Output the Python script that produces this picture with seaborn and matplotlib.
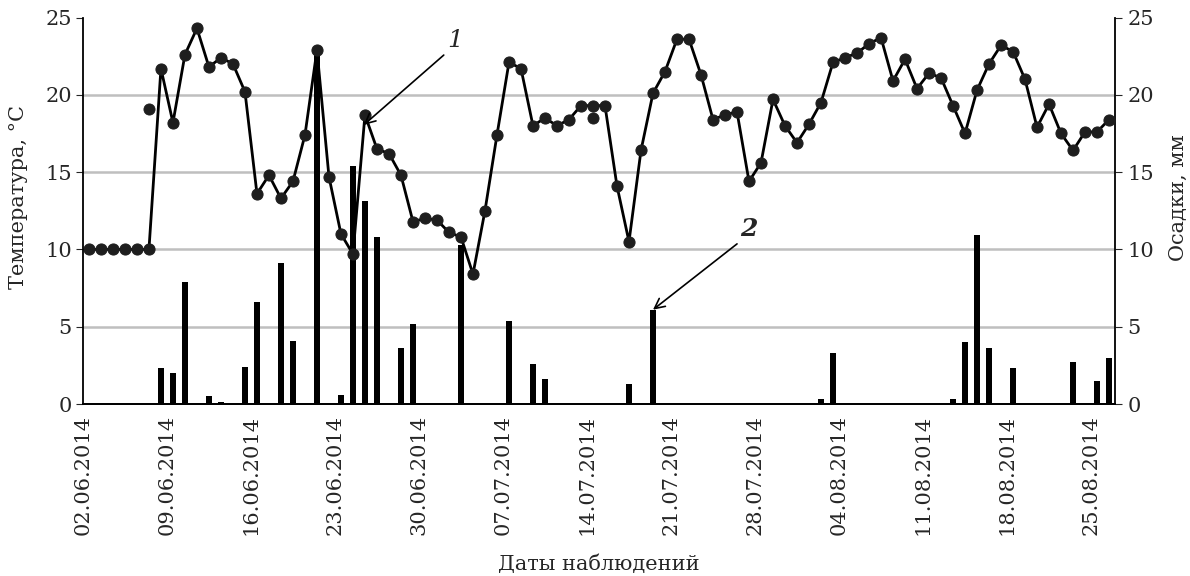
import numpy as np
import pandas as pd
import matplotlib
matplotlib.use("Agg")
import matplotlib.pyplot as plt
import seaborn as sns

# Observation period: daily, 02.06.2014 - 26.08.2014
dates = pd.date_range("2014-06-02", "2014-08-26", freq="D")
day_labels = list(dates.strftime("%d.%m.%Y"))

# Mean daily air temperature, °C
temperature = [
    10.0, 10.0, 10.0, 10.0, 10.0, 10.0, 21.7, 18.2, 22.6, 24.3,
    21.8, 22.4, 22.0, 20.2, 13.6, 14.8, 13.3, 14.4, 17.4, 22.9,
    14.7, 11.0, 9.7, 18.7, 16.5, 16.2, 14.8, 11.8, 12.0, 11.9,
    11.1, 10.8, 8.4, 12.5, 17.4, 22.1, 21.7, 18.0, 18.5, 18.0,
    18.4, 19.3, 19.3, 19.3, 14.1, 10.5, 16.4, 20.1, 21.5, 23.6,
    23.6, 21.3, 18.4, 18.7, 18.9, 14.4, 15.6, 19.7, 18.0, 16.9,
    18.1, 19.5, 22.1, 22.4, 22.7, 23.3, 23.7, 20.9, 22.3, 20.4,
    21.4, 21.1, 19.3, 17.5, 20.3, 22.0, 23.2, 22.8, 21.0, 17.9,
    19.4, 17.5, 16.4, 17.6, 17.6, 18.4,
]

# Separate single temperature readings
extra_dates = ["07.06.2014", "14.07.2014"]
extra_temp = [19.1, 18.5]

# Days with precipitation and amounts, mm
rain_dates = [
    "08.06.2014", "09.06.2014", "10.06.2014", "12.06.2014", "13.06.2014",
    "15.06.2014", "16.06.2014", "18.06.2014", "19.06.2014", "21.06.2014",
    "23.06.2014", "24.06.2014", "25.06.2014", "26.06.2014", "28.06.2014",
    "29.06.2014", "03.07.2014", "07.07.2014", "09.07.2014", "10.07.2014",
    "17.07.2014", "19.07.2014", "02.08.2014", "03.08.2014", "13.08.2014",
    "14.08.2014", "15.08.2014", "16.08.2014", "18.08.2014", "23.08.2014",
    "25.08.2014", "26.08.2014",
]
rain_mm = [
    2.3, 2.0, 7.9, 0.5, 0.1, 2.4, 6.6, 9.1, 4.1, 22.6,
    0.6, 15.4, 13.1, 10.8, 3.6, 5.2, 10.3, 5.4, 2.6, 1.6,
    1.3, 6.1, 0.3, 3.3, 0.3, 4.0, 10.9, 3.6, 2.3, 2.7,
    1.5, 3.0,
]

df = pd.DataFrame({"date": day_labels, "temp": temperature})
df["day"] = np.arange(len(df))
rain = dict(zip(rain_dates, rain_mm))
df["rain"] = [rain.get(d, 0.0) for d in day_labels]
pos = {d: i for i, d in enumerate(day_labels)}
extra_df = pd.DataFrame({"day": [pos[d] for d in extra_dates], "temp": extra_temp})

sns.set_style("white")
plt.rcParams["font.family"] = ["DejaVu Serif"]
plt.rcParams["font.size"] = 15

fig, ax = plt.subplots(figsize=(11.9, 5.76), dpi=100)
fig.subplots_adjust(left=0.0697, right=0.937, bottom=0.2986, top=0.9696)
ax2 = ax.twinx()

# Precipitation bars (right axis), drawn beneath the temperature curve
sns.barplot(data=df, x="day", y="rain", ax=ax2, color="black",
            width=0.55, native_scale=True, saturation=1, edgecolor="none")
ax2.set_axisbelow(True)

# Temperature curve (left axis)
sns.lineplot(data=df, x="day", y="temp", ax=ax, color="black", lw=2,
             marker="o", markersize=8, markerfacecolor="#1e1e1e",
             markeredgecolor="#1e1e1e")
sns.scatterplot(data=extra_df, x="day", y="temp", ax=ax, color="#1e1e1e",
                s=64, edgecolor="#1e1e1e", zorder=3)

ax.set_zorder(ax2.get_zorder() + 1)
ax.patch.set_visible(False)

n = len(df)
for a in (ax, ax2):
    a.set_xlim(-0.5, n - 0.5)
    a.set_ylim(0, 25)
    a.set_yticks(np.arange(0, 26, 5))
    a.spines["top"].set_visible(False)
    for s in ("left", "right", "bottom"):
        a.spines[s].set_color("black")
        a.spines[s].set_linewidth(1.3)

# Horizontal reference lines at the inner levels only
for level in (5, 10, 15, 20):
    ax2.axhline(level, color="#bfbfbf", lw=1.8, zorder=0)

tick_idx = np.arange(0, n, 7)
ax.set_xticks(tick_idx - 0.5)
ax.set_xticklabels([day_labels[i] for i in tick_idx], rotation=90)
ax.tick_params(axis="x", direction="out", length=5, color="#777777", pad=3)
ax.tick_params(axis="y", direction="out", length=5, pad=3)
ax2.tick_params(axis="y", direction="out", length=5, pad=4)
ax2.set_xlabel("")
ax.spines["right"].set_visible(False)
ax2.spines["left"].set_visible(False)

ax.set_xlabel("Даты наблюдений", labelpad=14)
ax.set_ylabel("Температура, °C", labelpad=6)
ax2.set_ylabel("Осадки, мм", labelpad=14)
ax.yaxis.set_label_coords(-0.053, 0.535)
ax2.yaxis.set_label_coords(1.052, 0.535)

# Series callouts
ax.annotate("1", xy=(22.9, 18.05), xytext=(30.5, 23.5), ha="center", va="center",
            fontsize=18, fontstyle="italic",
            arrowprops=dict(arrowstyle="->", color="black", lw=1.2,
                            relpos=(0.0, 0.0), shrinkA=0, shrinkB=0))
ax2.annotate("2", xy=(47.0, 6.1), xytext=(55.0, 11.3), ha="center", va="center",
             fontsize=18, fontstyle="italic", fontweight="bold",
             arrowprops=dict(arrowstyle="->", color="black", lw=1.2,
                             relpos=(0.0, 0.0), shrinkA=0, shrinkB=0))

fig.savefig("out.png", dpi=100)
